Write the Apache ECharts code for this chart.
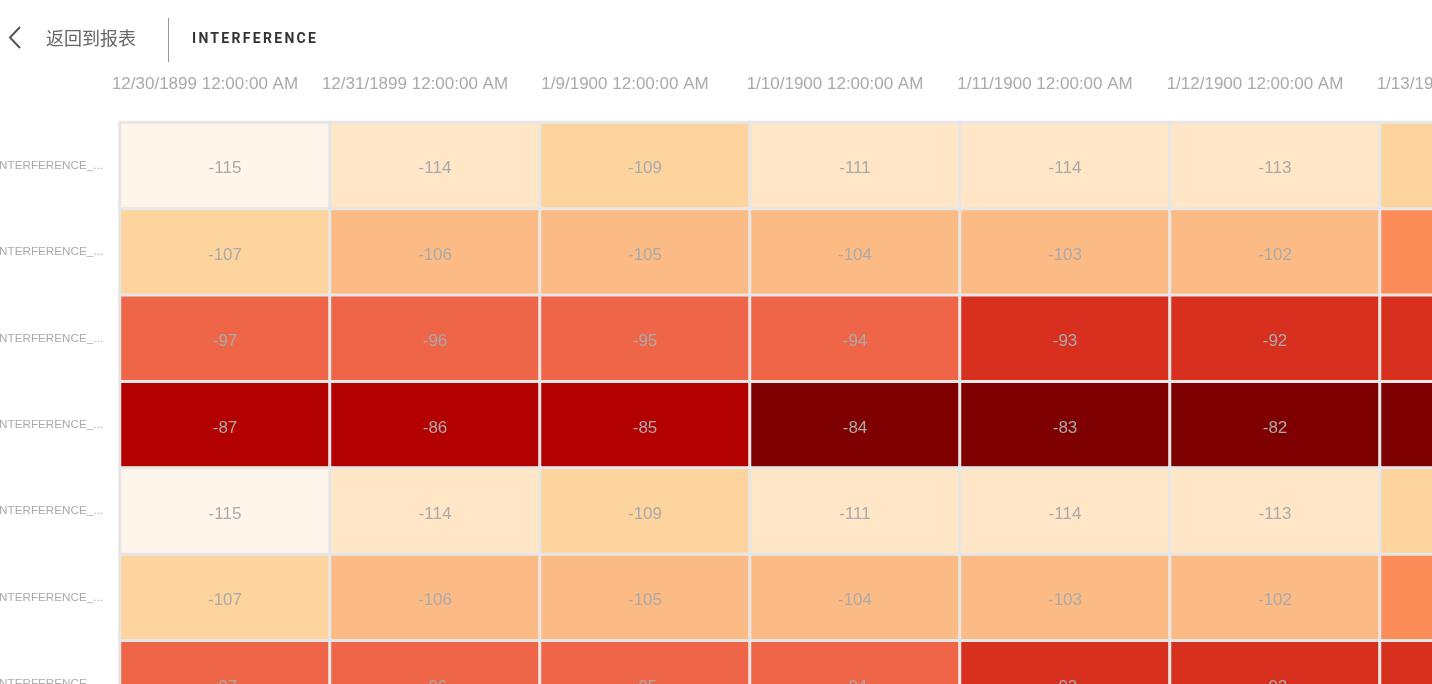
<!DOCTYPE html>
<html>
<head>
<meta charset="utf-8">
<script src="https://cdn.jsdelivr.net/npm/echarts@6/dist/echarts.min.js"></script>
<style>
  html, body { margin: 0; padding: 0; width: 1432px; height: 684px; overflow: hidden; background: #fff; font-family: "Liberation Sans", Arial, sans-serif; }
  #chart { position: absolute; left: 0; top: 0; width: 1610px; height: 830px; }
  #header { position: absolute; left: 0; top: 0; width: 1432px; height: 70px; z-index: 2; }
  #back { position: absolute; left: 46px; top: 25px; font-family: "Noto Sans CJK SC", sans-serif; font-size: 18px; line-height: 24px; color: #666; }
  #divider { position: absolute; left: 168px; top: 18px; width: 1px; height: 44px; background: #999; }
  #title { position: absolute; left: 192px; top: 29px; font-family: Roboto, "Liberation Sans", sans-serif; font-weight: bold; font-size: 14px; line-height: 18px; letter-spacing: 2.3px; color: #333; }
  #chev { position: absolute; left: 6px; top: 25px; }
</style>
</head>
<body>
<div id="chart"></div>
<div id="header">
  <svg id="chev" width="18" height="26" viewBox="0 0 18 26"><polyline points="14,2 4,12.5 14,23" fill="none" stroke="#555" stroke-width="2"/></svg>
  <div id="back">返回到报表</div>
  <div id="divider"></div>
  <div id="title">INTERFERENCE</div>
</div>
<script>
const xCategories = [
  "12/30/1899 12:00:00 AM",
  "12/31/1899 12:00:00 AM",
  "1/9/1900 12:00:00 AM",
  "1/10/1900 12:00:00 AM",
  "1/11/1900 12:00:00 AM",
  "1/12/1900 12:00:00 AM",
  "1/13/1900 12:00:00 AM"
];
const yCategories = [
  "INTERFERENCE_PRB_MIN",
  "INTERFERENCE_PRB_AVG",
  "INTERFERENCE_PRB_MAX",
  "INTERFERENCE_PUSCH_MAX",
  "INTERFERENCE_PUCCH_MIN",
  "INTERFERENCE_PUCCH_AVG",
  "INTERFERENCE_PUCCH_MAX",
  "INTERFERENCE_TOTAL_MAX"
];
const row1 = [-115, -114, -109, -111, -114, -113, -108];
const row2 = [-107, -106, -105, -104, -103, -102, -101];
const row3 = [-97, -96, -95, -94, -93, -92, -91];
const row4 = [-87, -86, -85, -84, -83, -82, -81];
const row5 = [-115, -114, -109, -111, -114, -113, -108];
const row6 = [-107, -106, -105, -104, -103, -102, -101];
const row7 = [-97, -96, -95, -94, -93, -92, -91];
const row8 = [-87, -86, -85, -84, -83, -82, -81];
const rows = [row1, row2, row3, row4, row5, row6, row7, row8];

const colorPieces = [
  { lte: -115, color: '#fff5ea' },
  { gt: -115, lte: -110, color: '#fee6c7' },
  { gt: -110, lte: -107, color: '#fdd49e' },
  { gt: -107, lte: -102, color: '#fcbb84' },
  { gt: -102, lte: -98, color: '#fc8d59' },
  { gt: -98, lte: -94, color: '#ef6548' },
  { gt: -94, lte: -88, color: '#d7301f' },
  { gt: -88, lte: -85, color: '#b30000' },
  { gt: -85, color: '#7f0000' }
];

const data = [];
rows.forEach((r, yi) => r.forEach((v, xi) => data.push([xi, yi, v])));

const chart = echarts.init(document.getElementById('chart'), null, { renderer: 'canvas' });
chart.setOption({
  animation: false,
  grid: { left: 120, top: 122.5, width: 1470, height: 691, containLabel: false, outerBoundsMode: 'none' },
  xAxis: {
    type: 'category',
    position: 'top',
    data: xCategories,
    axisLine: { show: false },
    axisTick: { show: false },
    splitLine: { show: false },
    axisLabel: {
      interval: 0,
      margin: 30,
      fontSize: 17,
      color: '#aaa',
      fontFamily: 'Liberation Sans',
      padding: [0, 40, 0, 0]
    }
  },
  yAxis: {
    type: 'category',
    inverse: true,
    data: yCategories,
    axisLine: { show: false },
    axisTick: { show: false },
    splitLine: { show: false },
    axisLabel: {
      interval: 0,
      margin: 17,
      fontSize: 11.7,
      color: '#aaa',
      fontFamily: 'Liberation Sans',
      width: 110,
      overflow: 'truncate',
      ellipsis: '...'
    }
  },
  visualMap: {
    show: false,
    type: 'piecewise',
    dimension: 2,
    pieces: colorPieces
  },
  series: [{
    type: 'heatmap',
    data: data,
    itemStyle: { borderColor: '#e6e6e6', borderWidth: 3 },
    label: {
      show: true,
      color: '#aaa',
      fontSize: 17,
      fontFamily: 'Liberation Sans',
      offset: [0, 3]
    },
    emphasis: { disabled: true }
  }]
});
</script>
</body>
</html>
